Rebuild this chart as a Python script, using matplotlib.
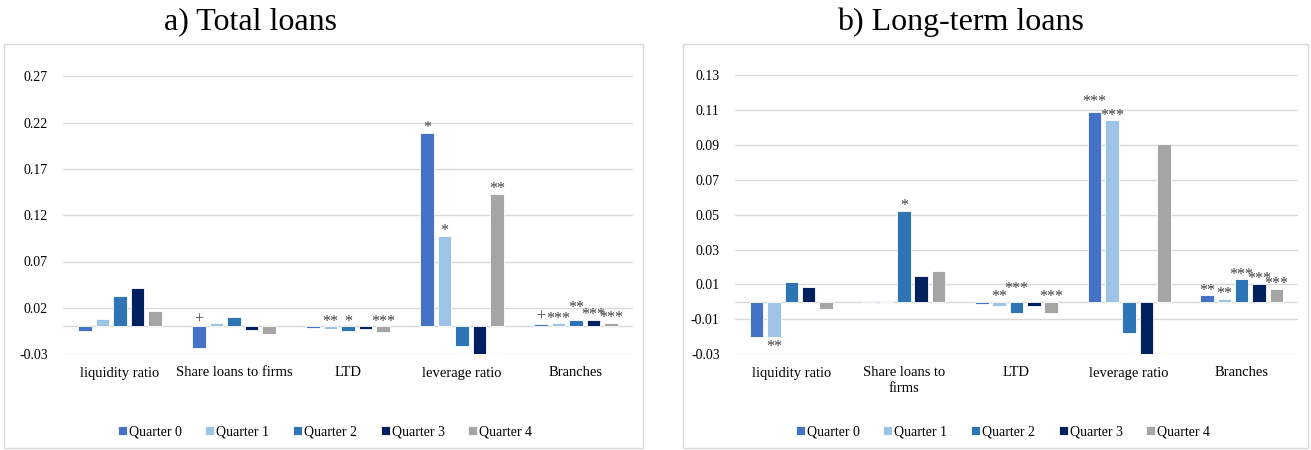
import matplotlib.pyplot as plt
from matplotlib.patches import Rectangle
import numpy as np

plt.rcParams['font.family'] = ['Liberation Serif', 'DejaVu Serif']

quarters = ["Quarter 0", "Quarter 1", "Quarter 2", "Quarter 3", "Quarter 4"]
colors = ["#4472C4", "#9DC3E6", "#2E75B6", "#002060", "#A5A5A5"]

# a) total loans
cats_a = ["liquidity ratio", "Share loans to firms", "LTD", "leverage ratio", "Branches"]
vals_a = [
    [-0.005, -0.024, -0.002, 0.209, 0.0027],   # Quarter 0
    [0.008, 0.003, -0.003, 0.0974, 0.003],     # Quarter 1
    [0.033, 0.0095, -0.0055, -0.021, 0.007],   # Quarter 2
    [0.0415, -0.004, -0.0025, -0.033, 0.007],  # Quarter 3
    [0.017, -0.0085, -0.006, 0.1435, 0.004],   # Quarter 4
]
stars_a = [
    ["", "+", "", "*", "+"],
    ["", "", "**", "*", "***"],
    ["", "", "*", "", "**"],
    ["", "", "", "", "***"],
    ["", "", "***", "**", "***"],
]
ticks_a = [-0.03, 0.02, 0.07, 0.12, 0.17, 0.22, 0.27]

# b) long-term loans
cats_b = ["liquidity ratio", "Share loans to\nfirms", "LTD", "leverage ratio", "Branches"]
vals_b = [
    [-0.0205, 0.0002, -0.0013, 0.1088, 0.0036],
    [-0.0205, -0.0005, -0.0027, 0.1042, 0.0017],
    [0.0116, 0.0524, -0.0067, -0.0178, 0.0128],
    [0.0083, 0.0146, -0.0025, -0.032, 0.0103],
    [-0.0042, 0.0178, -0.0065, 0.0908, 0.0075],
]
stars_b = [
    ["", "", "", "***", "**"],
    ["**", "", "**", "***", "**"],
    ["", "*", "***", "", "***"],
    ["", "", "", "", "***"],
    ["", "", "***", "", "***"],
]
ticks_b = [-0.03, -0.01, 0.01, 0.03, 0.05, 0.07, 0.09, 0.11, 0.13]

W, H = 1311, 450
fig = plt.figure(figsize=(W / 100, H / 100), dpi=100)

# panel frames
for x0, x1 in [(4, 643), (683, 1308)]:
    fig.patches.append(Rectangle((x0 / W, 2 / H), (x1 - x0) / W, (448 - 44) / H,
                                 transform=fig.transFigure, fill=False,
                                 edgecolor="#D9D9D9", linewidth=1))

fig.text(250 / W, 1 - 22 / H, "a) Total loans", ha="center", va="center", fontsize=23)
fig.text(960 / W, 1 - 22 / H, "b) Long-term loans", ha="center", va="center", fontsize=23)


def draw_panel(rect, cats, vals, stars, ticks, ylim, legend_x, below=(), lift=None):
    # below: (quarter, category) labels put under the bar end
    # lift: extra points to raise a crowded label
    lift = lift or {}
    ax = fig.add_axes(rect)
    x = np.arange(len(cats))
    pitch, bw = 0.154, 0.12
    handles = []
    for i, (v, c) in enumerate(zip(vals, colors)):
        pos = x + (i - 2) * pitch
        b = ax.bar(pos, v, bw, color=c, edgecolor="white", linewidth=0.6,
                   zorder=3, label=quarters[i])
        handles.append(b)
        for j, s in enumerate(stars[i]):
            if not s:
                continue
            if (i, j) in below:
                ax.annotate(s, (pos[j], v[j]), xytext=(0, -1),
                            textcoords="offset points", ha="center", va="top",
                            fontsize=11.5, color="#404040", zorder=4)
            else:
                dy = (2 if s == "+" else 0.5) + lift.get((i, j), 0)
                ax.annotate(s, (pos[j], max(v[j], 0)), xytext=(0, dy),
                            textcoords="offset points", ha="center",
                            va="baseline", fontsize=11.5, color="#404040", zorder=4)
    ax.set_ylim(*ylim)
    ax.set_xlim(-0.5, len(cats) - 0.5)
    ax.set_yticks(ticks)
    ax.set_yticklabels([f"{t:.2f}" for t in ticks], fontsize=10)
    ax.set_xticks(x)
    ax.set_xticklabels(cats, fontsize=10.5, linespacing=1.2, va="top")
    ax.tick_params(length=0, axis="y", pad=11)
    ax.tick_params(length=0, axis="x", pad=9)
    for t in ticks:
        ax.axhline(t, color="#D9D9D9", linewidth=1, zorder=1)
    ax.axhline(0, color="#D9D9D9", linewidth=1, zorder=2)
    for sp in ax.spines.values():
        sp.set_visible(False)
    fig.legend(handles=handles, loc="center", bbox_to_anchor=(legend_x, 1 - 432 / H),
               ncol=5, frameon=False, fontsize=10, handlelength=0.65,
               handleheight=0.65, handletextpad=0.15, columnspacing=1.7)
    return ax


draw_panel([63 / W, 1 - 354 / H, 570 / W, (354 - 58) / H],
           cats_a, vals_a, stars_a, ticks_a, (-0.03, 0.29), 325 / W,
           lift={(2, 4): 5})
draw_panel([735 / W, 1 - 354 / H, 563 / W, (354 - 58) / H],
           cats_b, vals_b, stars_b, ticks_b, (-0.03, 0.14), 1003 / W,
           below={(1, 0)}, lift={(2, 2): 6, (0, 3): 4})

fig.savefig("out.png", dpi=100)
